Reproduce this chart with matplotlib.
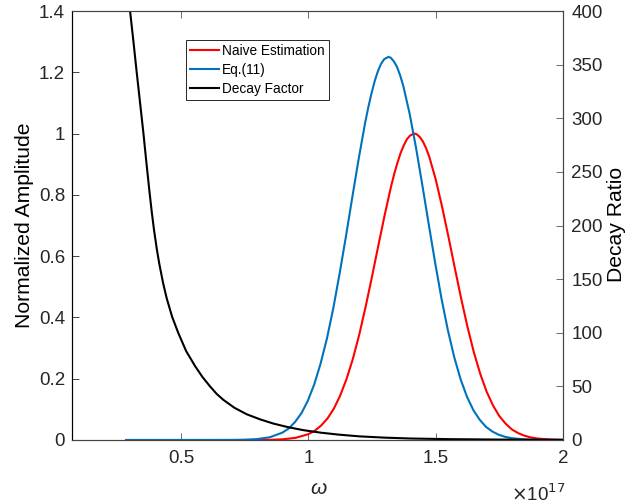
import matplotlib
matplotlib.use("Agg")
import matplotlib.pyplot as plt

plt.rcParams['font.family'] = ['Liberation Sans', 'DejaVu Sans']

# ---- data (omega in units of 1e17) ----
omega_naive = [0.285, 0.50, 0.70, 0.80, 0.85, 0.90, 0.95, 1.00, 1.025, 1.05, 1.075,
               1.10, 1.125, 1.15, 1.175, 1.20, 1.225, 1.25, 1.275, 1.30, 1.325,
               1.3375, 1.35, 1.3625, 1.375, 1.3875, 1.40, 1.416, 1.425, 1.4375,
               1.45, 1.4625, 1.475, 1.50, 1.525, 1.55,
               1.575, 1.60, 1.625, 1.65, 1.675, 1.70, 1.725, 1.75, 1.775, 1.80,
               1.825, 1.85, 1.875, 1.90, 1.95, 2.00]
naive_amp = [0.0, 0.0, 0.0, 0.0002, 0.0007, 0.0023, 0.007, 0.019, 0.030, 0.047, 0.070,
             0.102, 0.145, 0.199, 0.265, 0.344, 0.435, 0.533, 0.635, 0.735, 0.828,
             0.869, 0.905, 0.937, 0.962, 0.982, 0.994, 1.0, 0.998, 0.989,
             0.974, 0.952, 0.924, 0.851, 0.762, 0.664,
             0.562, 0.462, 0.369, 0.286, 0.216, 0.158, 0.113, 0.078, 0.053, 0.034,
             0.022, 0.0136, 0.0082, 0.0048, 0.0015, 0.0004]

omega_eq11 = [0.285, 0.50, 0.698, 0.748, 0.798, 0.848, 0.898, 0.923, 0.948, 0.973,
              0.998, 1.023, 1.048, 1.073, 1.098, 1.123, 1.148, 1.173, 1.198, 1.223,
              1.2355, 1.248, 1.2605, 1.273, 1.2855, 1.298, 1.314, 1.323, 1.3355,
              1.348, 1.3605, 1.373, 1.398, 1.423, 1.448,
              1.473, 1.498, 1.523, 1.548, 1.573, 1.598, 1.623, 1.648, 1.673, 1.698,
              1.723, 1.748, 1.773, 1.798, 1.848, 1.898, 2.0]
eq11_amp = [0.0, 0.0, 0.0002, 0.0008, 0.0029, 0.0088, 0.024, 0.0375, 0.059, 0.0875,
            0.128, 0.181, 0.249, 0.331, 0.43, 0.544, 0.666, 0.794, 0.919, 1.035,
            1.086, 1.131, 1.171, 1.203, 1.2275, 1.243, 1.25, 1.248, 1.236,
            1.218, 1.19, 1.155, 1.064, 0.953, 0.83,
            0.703, 0.578, 0.461, 0.358, 0.27, 0.198, 0.141, 0.0975, 0.066, 0.0425,
            0.0275, 0.017, 0.0103, 0.006, 0.0019, 0.0005, 0.0]

omega_decay = [0.285, 0.300, 0.313, 0.326, 0.339, 0.352, 0.364, 0.376, 0.385, 0.394,
               0.405, 0.415, 0.430, 0.444, 0.465, 0.489, 0.52, 0.555, 0.585, 0.614,
               0.64, 0.666, 0.71, 0.758, 0.81, 0.863, 0.92, 0.98, 1.05, 1.12,
               1.2, 1.3, 1.4, 1.55, 1.75, 2.0]
decay_ratio = [435, 400, 372, 343, 315, 287, 259, 232, 213, 196,
               178, 164, 146, 132, 115, 100, 83, 69, 58.5, 50,
               43, 37.5, 30, 24, 19.3, 15.3, 12, 9.2, 6.8, 5.0,
               3.4, 2.2, 1.4, 0.8, 0.4, 0.2]

x_ticks = [0.5, 1, 1.5, 2]
x_tick_labels = ['0.5', '1', '1.5', '2']
left_ticks = [0, 0.2, 0.4, 0.6, 0.8, 1.0, 1.2, 1.4]
left_tick_labels = ['0', '0.2', '0.4', '0.6', '0.8', '1', '1.2', '1.4']
right_ticks = [0, 50, 100, 150, 200, 250, 300, 350, 400]
right_tick_labels = ['0', '50', '100', '150', '200', '250', '300', '350', '400']

W, H = 629, 504
fig = plt.figure(figsize=(W / 100, H / 100), dpi=100)
L, R, T, B = 72, 563, 11, 440
ax = fig.add_axes([L / W, (H - B) / H, (R - L) / W, (B - T) / H])
ax2 = ax.twinx()

red = '#FF0000'
blue = '#0072BD'
lw = 1.5

l1, = ax.plot(omega_naive, naive_amp, color=red, lw=lw, label='Naive Estimation',
              solid_joinstyle='round')
l2, = ax.plot(omega_eq11, eq11_amp, color=blue, lw=lw, label='Eq.(11)',
              solid_joinstyle='round')
l3, = ax2.plot(omega_decay, decay_ratio, color='black', lw=lw, label='Decay Factor',
               solid_joinstyle='round')

ax.set_xlim(0.072, 2.0)
ax.set_ylim(0, 1.4)
ax2.set_ylim(0, 400)

tick_fs = 13.5
ax.set_xticks(x_ticks)
ax.set_xticklabels(x_tick_labels, fontsize=tick_fs, color='#262626')
ax.set_yticks(left_ticks)
ax.set_yticklabels(left_tick_labels, fontsize=tick_fs, color='#262626')
ax2.set_yticks(right_ticks)
ax2.set_yticklabels(right_tick_labels, fontsize=tick_fs, color='#262626')

ax.tick_params(axis='x', direction='in', length=5, width=0.6, color='#555555',
               top=True, pad=7)
ax.tick_params(axis='y', direction='in', length=5, width=0.6, color='#262626',
               right=False, pad=5)
ax2.tick_params(axis='y', direction='in', length=5, width=0.6, color='#555555',
                pad=6)

for a in (ax, ax2):
    for s in ('top', 'bottom', 'right'):
        a.spines[s].set_color('#444444')
        a.spines[s].set_linewidth(0.8)
    a.spines['left'].set_color('#000000')
    a.spines['left'].set_linewidth(0.8)

label_fs = 15.2
fig.text(25 / W, 1 - 225 / H, 'Normalized Amplitude', rotation=90,
         ha='center', va='center', fontsize=label_fs, color='black')
fig.text(616 / W, 1 - 224 / H, 'Decay Ratio', rotation=90,
         ha='center', va='center', fontsize=label_fs, color='black')
fig.text(318 / W, 1 - 488 / H, 'ω', ha='center', va='center',
         fontsize=15, style='italic', color='#262626')
fig.text(565 / W, 1 - 494 / H, r'$\times$10$^{17}$', ha='right', va='center',
         fontsize=tick_fs, color='#262626')

leg = ax2.legend(handles=[l1, l2, l3], loc='upper left',
                 bbox_to_anchor=(186 / W, 1 - 40 / H), bbox_transform=fig.transFigure,
                 borderaxespad=0, fontsize=9.8, frameon=True, fancybox=False,
                 framealpha=1, edgecolor='#262626', handlelength=2.1,
                 handletextpad=0.25, labelspacing=0.35, borderpad=0.3)
leg.get_frame().set_linewidth(0.7)

fig.savefig('out.png', dpi=100)
